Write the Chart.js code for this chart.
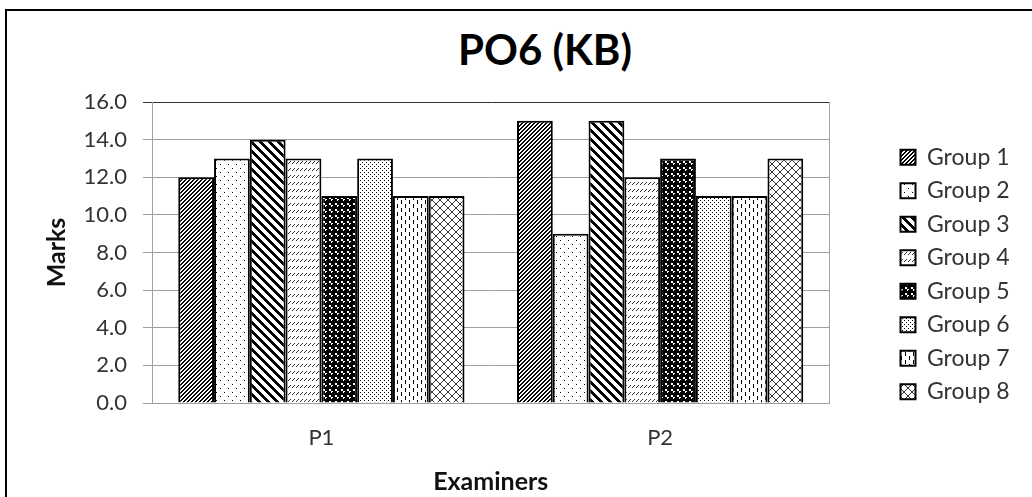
<!DOCTYPE html>
<html>
<head>
<meta charset="utf-8">
<title>PO6 (KB)</title>
<script src="https://cdn.jsdelivr.net/npm/chart.js@4.4.0/dist/chart.umd.min.js"></script>
<style>
    html, body { margin: 0; padding: 0; background: #fff; overflow: hidden; }
    #frame {
        position: absolute; left: 5px; top: 9px; width: 1100px; height: 600px;
        border-left: 2px solid #000; border-top: 2px solid #000;
    }
    #title {
        position: absolute; left: 7px; width: 1076px; top: 28px;
        text-align: center; font: bold 42px Lato, sans-serif; line-height: 42px; color: #000;
    }
    #wrap { position: absolute; left: 0; top: 0; width: 1032px; height: 497px; }
</style>
</head>
<body>
<div id="frame"></div>
<div id="title">PO6 (KB)</div>
<div id="wrap"><canvas id="chart"></canvas></div>
<script>
const categories = ['P1', 'P2'];
const groupNames = ['Group 1', 'Group 2', 'Group 3', 'Group 4', 'Group 5', 'Group 6', 'Group 7', 'Group 8'];
const group1 = [12, 15];
const group2 = [13, 9];
const group3 = [14, 15];
const group4 = [13, 12];
const group5 = [11, 13];
const group6 = [13, 11];
const group7 = [11, 11];
const group8 = [11, 13];
const yTickLabels = ['0.0', '2.0', '4.0', '6.0', '8.0', '10.0', '12.0', '14.0', '16.0'];

// Small pixel tiles, like the Excel fill patterns
function tile(w, h, fg, isOn) {
    const c = document.createElement('canvas');
    c.width = w;
    c.height = h;
    const g = c.getContext('2d');
    g.fillStyle = '#fff';
    g.fillRect(0, 0, w, h);
    g.fillStyle = fg;
    for (let y = 0; y < h; y++) {
        for (let x = 0; x < w; x++) {
            if (isOn(x, y)) g.fillRect(x, y, 1, 1);
        }
    }
    return g.createPattern(c, 'repeat');
}

const sphere = [
    '.XXXX.',
    'X..XXX',
    'X.XXXX',
    'XXXXXX',
    'XXXXXX',
    '.XXXX.'
];

const patterns = [
    tile(4, 4, '#000', (x, y) => (x + y) % 4 < 2),
    tile(8, 8, '#000', (x, y) => (x === 0 && y === 0) || (x === 4 && y === 4)),
    tile(9, 9, '#000', (x, y) => ((x - y) % 9 + 9) % 9 < 4),
    tile(4, 7, '#333', (x, y) => y < 3 && x === 2 - y),
    tile(6, 6, '#000', (x, y) => sphere[y][x] === 'X'),
    tile(4, 4, '#000', (x, y) => (x === 0 && y === 0) || (x === 2 && y === 2)),
    tile(8, 8, '#000', (x, y) => (x === 1 && y < 4) || (x === 5 && y >= 4)),
    tile(8, 8, '#333', (x, y) => x === y || x + y === 7)
];

const seriesData = [group1, group2, group3, group4, group5, group6, group7, group8];

const datasets = groupNames.map((name, i) => ({
    label: name,
    data: seriesData[i],
    backgroundColor: patterns[i],
    borderColor: '#000',
    borderWidth: 2,
    categoryPercentage: 0.845,
    barPercentage: 1.0
}));

const textColor = '#333';
const gridColor = '#a0a0a0';

// Legend sits to the right of the plot; work out its natural width
const legendFontSize = 23;
const legendBox = 15;
const legendPadding = 10.5;
const measure = document.createElement('canvas').getContext('2d');
measure.font = legendFontSize + 'px Lato';
const legendTextWidth = Math.max(...groupNames.map(n => measure.measureText(n).width));
const legendWidth = legendPadding + legendBox + legendFontSize / 2 + legendTextWidth + 10;
const rightPad = 1032 - 890 - legendWidth;

new Chart(document.getElementById('chart'), {
    type: 'bar',
    data: {
        labels: categories,
        datasets: datasets
    },
    options: {
        responsive: true,
        maintainAspectRatio: false,
        animation: false,
        layout: {
            padding: { top: 102, right: rightPad, bottom: 0, left: 0 }
        },
        plugins: {
            title: { display: false },
            tooltip: { enabled: false },
            legend: {
                position: 'right',
                align: 'start',
                title: {
                    display: true,
                    text: '',
                    font: { size: 12 },
                    padding: { top: 0, bottom: 18.9 }
                },
                labels: {
                    color: textColor,
                    font: { family: 'Lato', size: legendFontSize },
                    boxWidth: legendBox,
                    boxHeight: legendBox,
                    padding: legendPadding
                }
            }
        },
        scales: {
            x: {
                grid: { display: false },
                border: { display: true, color: gridColor, width: 1 },
                ticks: {
                    color: textColor,
                    font: { family: 'Lato', size: 22 },
                    padding: 14
                },
                title: {
                    display: true,
                    text: 'Examiners',
                    color: '#111',
                    font: { family: 'Lato', size: 25, weight: 'bold' },
                    padding: { top: 0, bottom: 0 }
                },
                afterFit: function(scale) {
                    scale.height = 94;
                }
            },
            y: {
                min: 0,
                max: 16,
                ticks: {
                    stepSize: 2,
                    color: textColor,
                    font: { family: 'Lato', size: 22 },
                    padding: 16,
                    callback: function(value, index) {
                        return yTickLabels[index];
                    }
                },
                grid: {
                    color: function(context) {
                        return context.tick && context.tick.value === 16 ? '#333' : gridColor;
                    },
                    tickLength: 9
                },
                border: { display: true, color: gridColor, width: 1 },
                title: {
                    display: true,
                    text: 'Marks',
                    color: '#111',
                    font: { family: 'Lato', size: 25, weight: 'bold' },
                    padding: { top: 42, bottom: 0 }
                },
                afterFit: function(scale) {
                    scale.width = 152;
                }
            },
            frameRight: {
                type: 'linear',
                position: 'right',
                display: true,
                ticks: { display: false },
                grid: { display: false, drawTicks: false },
                border: { display: true, color: gridColor, width: 1 },
                afterFit: function(scale) {
                    scale.width = 902 - legendPadding - 831;
                }
            }
        }
    }
});
</script>
</body>
</html>
